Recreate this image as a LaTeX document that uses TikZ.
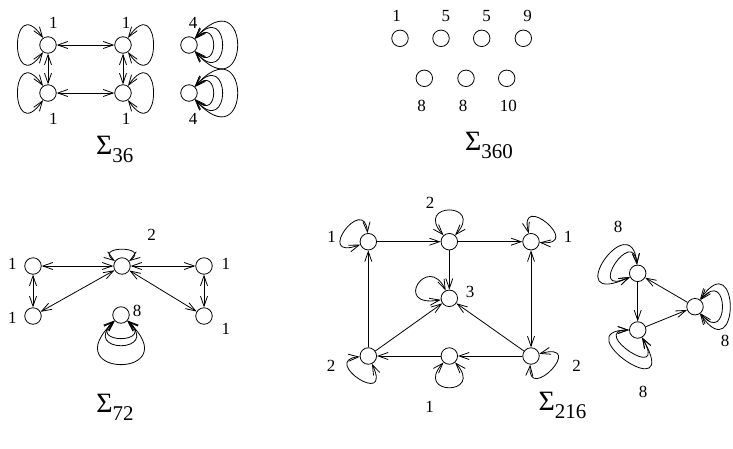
\documentclass[tikz,border=0pt]{standalone}
\usepackage{fontspec}
\setmainfont{Liberation Serif}
\usetikzlibrary{arrows.meta}
\begin{document}
\begin{tikzpicture}[x=1pt,y=1pt,line width=0.8pt,
  >={Straight Barb[length=10pt,width=7pt]},
  vert/.style={circle,draw,minimum size=16.5pt,inner sep=0pt},
  lab/.style={font=\fontsize{17}{17}\selectfont,inner sep=0pt},
  siglab/.style={font=\fontsize{28}{28}\selectfont,inner sep=0pt},
  loopline/.style={<->}]
\useasboundingbox (0,0) rectangle (733,-448);
\newcommand{\subtxt}[1]{\raisebox{-8pt}{\fontsize{21}{21}\selectfont #1}}
% \sloop{node}{out angle}{in angle}{out distance}{in distance}
\newcommand{\sloop}[5]{\draw[loopline] (#1.#2) .. controls +(#2:#4) and +(#3:#5) .. (#1.#3);}

% ---------------- Sigma_36 ----------------
\node[vert] (s1) at (48,-45) {};
\node[vert] (s2) at (123,-45) {};
\node[vert] (s3) at (48,-93) {};
\node[vert] (s4) at (123,-93) {};
\node[vert] (s5) at (189,-45) {};
\node[vert] (s6) at (189,-93) {};
\draw[<->] (s1) -- (s2);
\draw[<->] (s3) -- (s4);
\draw[<->] (s1) -- (s3);
\draw[<->] (s2) -- (s4);
\sloop{s1}{125}{235}{59}{59}
\sloop{s3}{125}{235}{59}{59}
\sloop{s2}{55}{-55}{59}{59}
\sloop{s4}{55}{-55}{59}{59}
\foreach \n in {s5,s6}{
  \sloop{\n}{45}{-45}{34.5}{34.5}
  \sloop{\n}{48}{-48}{55}{55}
  \sloop{\n}{48}{-48}{85}{85}
}
\node[lab] (l1) at (53.3,-22.5) {1};
\node[lab] (l2) at (126,-22.5) {1};
\node[lab] (l3) at (53.3,-119) {1};
\node[lab] (l4) at (126,-119) {1};
\node[lab] (l5) at (193,-22.5) {4};
\node[lab] (l6) at (193,-119) {4};
\node[siglab] (sig36) at (114.7,-149) {Σ\subtxt{36}};

% ---------------- Sigma_360 ----------------
\node[vert] (t1) at (400,-38.3) {};
\node[vert] (t2) at (441,-38.3) {};
\node[vert] (t3) at (481.7,-38.3) {};
\node[vert] (t4) at (523.3,-38.3) {};
\node[vert] (t5) at (424.3,-78.3) {};
\node[vert] (t6) at (466,-78.3) {};
\node[vert] (t7) at (506.7,-78.3) {};
\node[lab] (m1) at (396.7,-16) {1};
\node[lab] (m2) at (445.8,-16) {5};
\node[lab] (m3) at (486.7,-16) {5};
\node[lab] (m4) at (527.5,-16) {9};
\node[lab] (m5) at (421.7,-105.8) {8};
\node[lab] (m6) at (463,-105.8) {8};
\node[lab] (m7) at (508.3,-105.8) {10};
\node[siglab] (sig360) at (489,-145) {Σ\subtxt{360}};

% ---------------- Sigma_72 ----------------
\node[vert] (u1) at (33,-266) {};
\node[vert] (u2) at (33,-316) {};
\node[vert] (u3) at (122,-266) {};
\node[vert] (u4) at (204,-266) {};
\node[vert] (u5) at (204,-316) {};
\node[vert] (u6) at (121,-315) {};
\draw[<->] (u1) -- (u3);
\draw[<->] (u1) -- (u2);
\draw[<->] (u2) -- (u3);
\draw[<->] (u3) -- (u4);
\draw[<->] (u4) -- (u5);
\draw[<->] (u3) -- (u5);
\sloop{u3}{145}{35}{27}{27}
\sloop{u6}{220}{320}{37}{37}
\sloop{u6}{223}{317}{48}{48}
\sloop{u6}{223}{317}{85}{85}
\node[lab] (n1) at (12.5,-263.5) {1};
\node[lab] (n2) at (12.5,-317.5) {1};
\node[lab] (n3) at (151.7,-235) {2};
\node[lab] (n4) at (225.8,-263.5) {1};
\node[lab] (n5) at (225.8,-329) {1};
\node[lab] (n6) at (137,-311) {8};
\node[siglab] (sig72) at (115,-407.5) {Σ\subtxt{72}};

% ---------------- Sigma_216 ----------------
\node[vert] (A) at (368.3,-241.7) {};
\node[vert] (B) at (449.3,-241.7) {};
\node[vert] (C) at (531,-241.7) {};
\node[vert] (D) at (449.3,-298.3) {};
\node[vert] (E) at (368.3,-356) {};
\node[vert] (F) at (449.3,-356) {};
\node[vert] (G) at (531,-356) {};
\draw[->] (A) -- (B);
\draw[->] (B) -- (C);
\draw[->] (B) -- (D);
\draw[->] (E) -- (A);
\draw[<->] (C) -- (G);
\draw[->] (E) -- (D);
\draw[->] (G) -- (D);
\draw[->] (G) -- (F);
\draw[->] (F) -- (E);
\sloop{A}{95}{200}{40}{50}
\sloop{B}{132}{48}{45}{45}
\sloop{C}{105}{-5}{45}{45}
\sloop{D}{115}{190}{42}{50}
\sloop{E}{185}{295}{40}{50}
\sloop{F}{228}{312}{45}{45}
\sloop{G}{15}{265}{50}{40}
\node[lab] (o1) at (331.7,-236.5) {1};
\node[lab] (o2) at (430,-202.5) {2};
\node[lab] (o3) at (568,-236.5) {1};
\node[lab] (o4) at (470,-291.5) {3};
\node[lab] (o5) at (331,-366) {2};
\node[lab] (o6) at (576.7,-366) {2};
\node[lab] (o7) at (429.6,-407) {1};

\node[vert] (P) at (637.7,-273.3) {};
\node[vert] (Q) at (637.7,-330) {};
\node[vert] (R) at (695,-306.7) {};
\draw[->] (P) -- (Q);
\draw[->] (Q) -- (R);
\draw[->] (R) -- (P);
\sloop{P}{95}{205}{40}{50}
\sloop{P}{95}{205}{62}{80}
\sloop{Q}{180}{300}{42}{55}
\sloop{Q}{180}{300}{65}{85}
\sloop{R}{50}{-50}{45}{45}
\sloop{R}{55}{-55}{70}{70}
\node[lab] (p1) at (618,-226.7) {8};
\node[lab] (p2) at (725,-340.5) {8};
\node[lab] (p3) at (643,-391.7) {8};
\node[siglab] (sig216) at (562.5,-405) {Σ\subtxt{216}};
\end{tikzpicture}
\end{document}
